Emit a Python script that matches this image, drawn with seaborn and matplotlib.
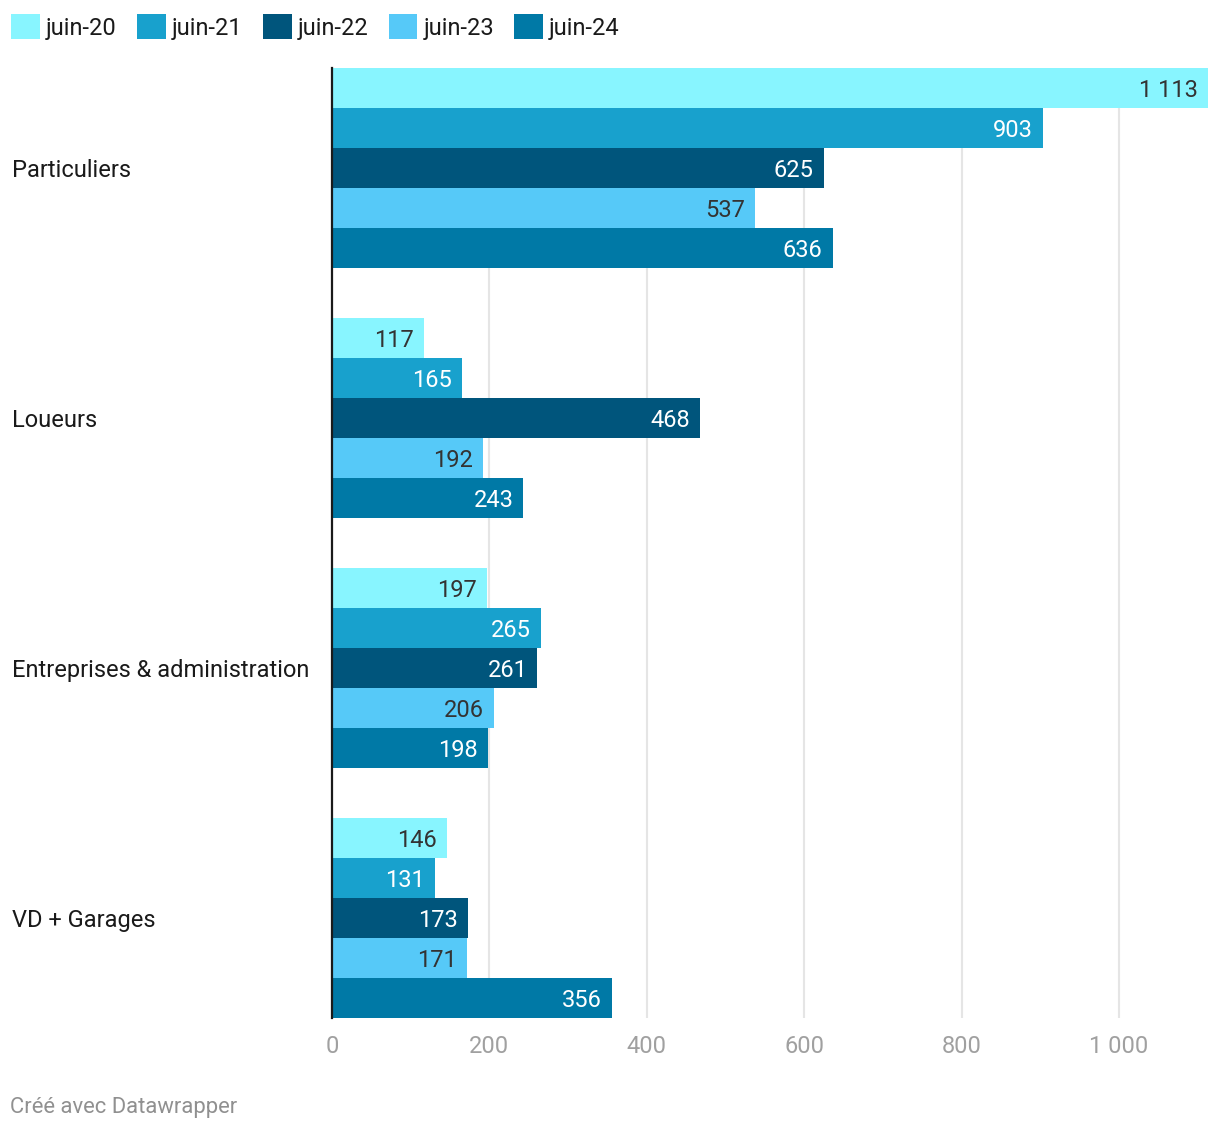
import matplotlib
matplotlib.use("Agg")
import matplotlib.pyplot as plt
import matplotlib.transforms as mtransforms
from matplotlib.patches import Patch
import seaborn as sns
import pandas as pd

categories = ["Particuliers", "Loueurs", "Entreprises & administration", "VD + Garages"]
series = ["juin-20", "juin-21", "juin-22", "juin-23", "juin-24"]
values = {
    "juin-20": [1113, 117, 197, 146],
    "juin-21": [903, 165, 265, 131],
    "juin-22": [625, 468, 261, 173],
    "juin-23": [537, 192, 206, 171],
    "juin-24": [636, 243, 198, 356],
}
colors = ["#88f5ff", "#18a1cd", "#00557c", "#56c9f8", "#0079a6"]
label_colors = ["#333333", "#ffffff", "#ffffff", "#333333", "#ffffff"]
xticks = [0, 200, 400, 600, 800, 1000]
xtick_labels = ["0", "200", "400", "600", "800", "1 000"]

rows = []
for s in series:
    for c, v in zip(categories, values[s]):
        rows.append({"cat": c, "series": s, "value": v})
df = pd.DataFrame(rows)

sns.set_theme(style="white")
plt.rcParams["font.family"] = ["Roboto", "DejaVu Sans"]

FS = 17
W, H = 1220, 1132
fig = plt.figure(figsize=(W / 100, H / 100), dpi=100)
ax = fig.add_axes([332 / W, 1 - 1018 / H, (1208 - 332) / W, (1018 - 68) / H])

sns.barplot(data=df, y="cat", x="value", hue="series", order=categories,
            hue_order=series, palette=colors, width=0.8, orient="h",
            saturation=1, ax=ax, legend=False, zorder=2, linewidth=0)

ax.set_xlim(0, 1113)
ax.set_ylim(3.4, -0.4)
ax.set_xlabel("")
ax.set_ylabel("")
for x in xticks[1:]:
    ax.axvline(x, color="#e5e5e5", lw=1.5, zorder=0)
for side in ["top", "right", "bottom"]:
    ax.spines[side].set_visible(False)
ax.spines["left"].set_color("#1a1a1a")
ax.spines["left"].set_linewidth(1.6)
ax.spines["left"].set_zorder(5)

ax.set_xticks(xticks)
ax.set_xticklabels(xtick_labels, color="#a0a0a0", fontsize=FS)
ax.tick_params(axis="x", length=0, pad=12)
ax.set_yticks([])

trans = mtransforms.blended_transform_factory(fig.transFigure, ax.transData)
for i, c in enumerate(categories):
    ax.text(12 / W, i, c, transform=trans, ha="left", va="center_baseline",
            fontsize=FS, color="#1a1a1a")

for k, cont in enumerate(ax.containers):
    for bar, v in zip(cont, values[series[k]]):
        txt = f"{v:,}".replace(",", " ")
        ax.text(bar.get_width() - 10 * 1113 / 876, bar.get_y() + bar.get_height() / 2,
                txt, ha="right", va="center_baseline", fontsize=FS,
                color=label_colors[k], zorder=6)

handles = [Patch(facecolor=col, edgecolor="none", label=s) for s, col in zip(series, colors)]
fig.legend(handles=handles, loc="upper left", bbox_to_anchor=(2 / W, 1 - 5 / H),
           ncol=5, frameon=False, fontsize=FS, handlelength=1.22, handleheight=1.22,
           handletextpad=0.25, columnspacing=0.86, borderaxespad=0,
           labelcolor="#1a1a1a")

fig.text(10 / W, 1 - 1108 / H, "Créé avec Datawrapper", ha="left", va="center",
         fontsize=15.8, color="#909090")

fig.savefig("out.png", dpi=100, facecolor="white")
